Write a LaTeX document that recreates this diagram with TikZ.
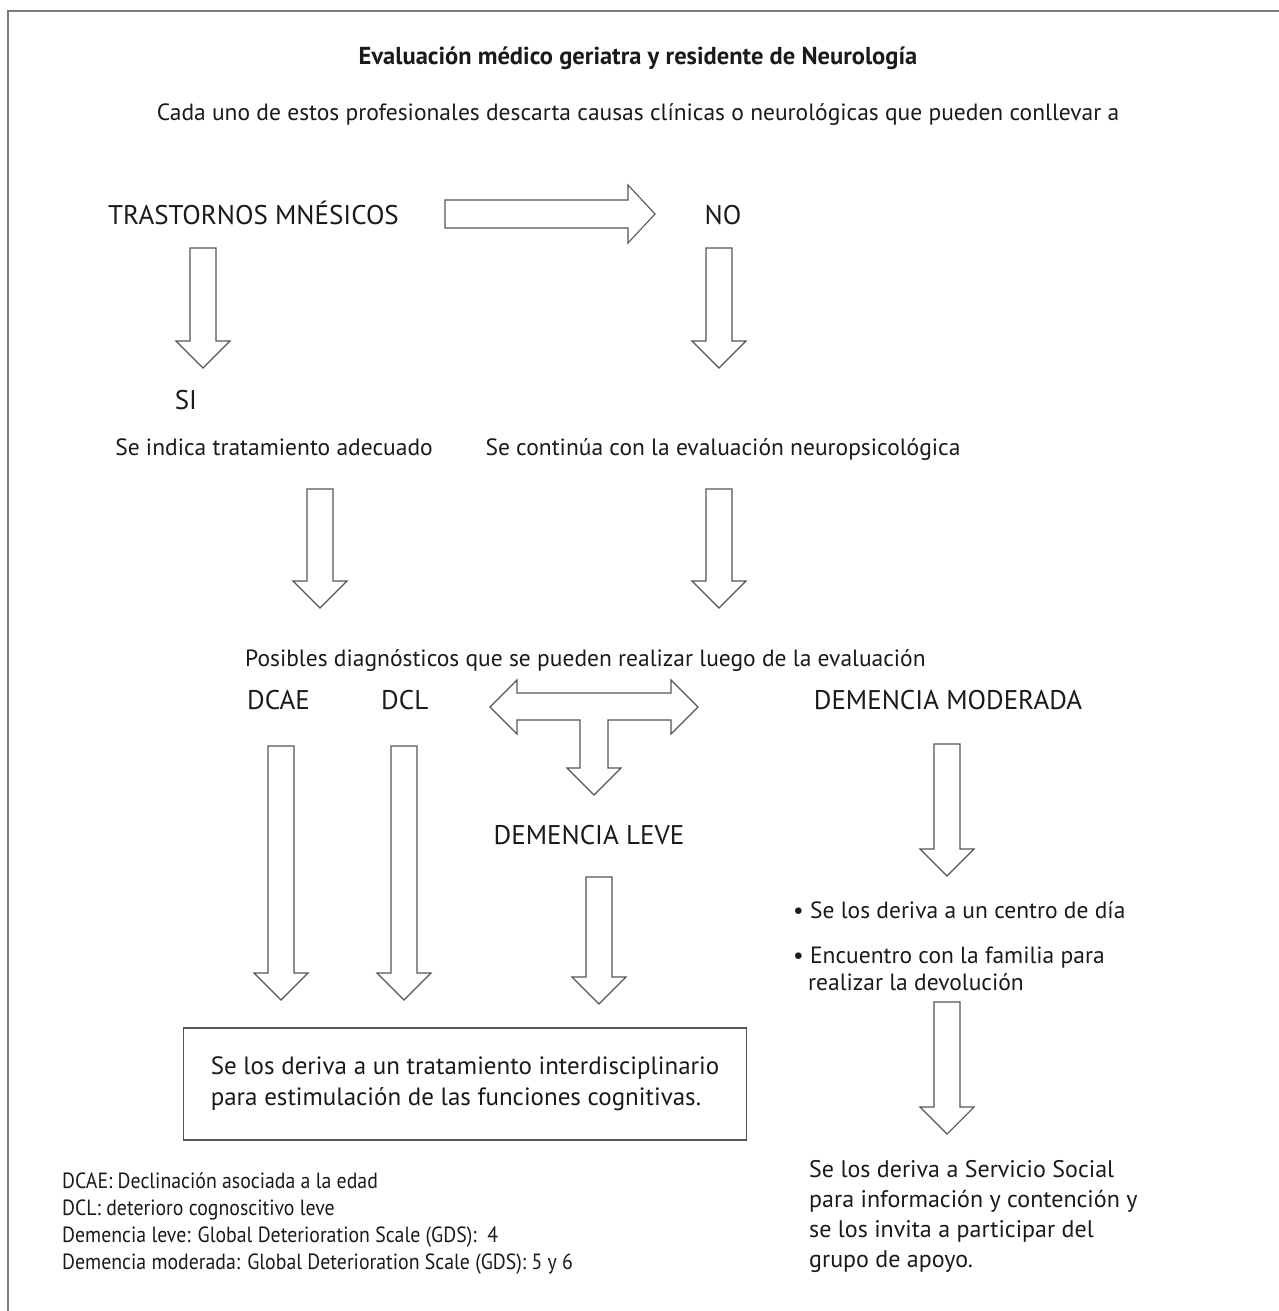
\documentclass[tikz,border=0pt]{standalone}
\usepackage{fontspec}
\setmainfont{PT Sans}
\newfontfamily\notafont[FakeStretch=0.9]{PT Sans}
\usetikzlibrary{calc}
\definecolor{tinta}{HTML}{1A1A1A}
\definecolor{marco}{HTML}{7A7A7A}
\definecolor{trazo}{HTML}{555555}
\tikzset{
	texto/.style={inner sep=0pt, text=tinta, font=\fontsize{23.5}{28}\selectfont},
	mayus/.style={texto, font=\fontsize{27}{32}\selectfont},
	nota/.style={inner sep=0pt, text=tinta, align=left, font=\notafont\fontsize{22}{27}\selectfont},
	flecha/.style={draw=trazo, line width=1.1pt, fill=white, line join=miter}
}
% flecha de bloque hacia abajo: de (#1) a la punta (#2)
\newcommand{\flechabaja}[2]{%
	\draw[flecha] ($(#1)+(-13,0)$) -- ($(#2)+(-13,-27)$) -- ($(#2)+(-27,-27)$) -- (#2)
	-- ($(#2)+(27,-27)$) -- ($(#2)+(13,-27)$) -- ($(#1)+(13,0)$) -- cycle;}
% flecha de bloque hacia la derecha
\newcommand{\flechader}[2]{%
	\draw[flecha] ($(#1)+(0,-14)$) -- ($(#2)+(-27,-14)$) -- ($(#2)+(-27,-29)$) -- (#2)
	-- ($(#2)+(-27,29)$) -- ($(#2)+(-27,14)$) -- ($(#1)+(0,14)$) -- cycle;}

\begin{document}
\begin{tikzpicture}[x=1pt,y=-1pt]
\useasboundingbox (0,0) rectangle (1278,1311);

%Marco
\draw[marco, line width=1.6pt] (8,1330) -- (8,11) -- (1300,11);

%Textos
\node[texto, font=\bfseries\fontsize{24.5}{28}\selectfont, anchor=base] (titulo) at (638,65) {Evaluación médico geriatra y residente de Neurología};
\node[texto, anchor=base] (intro) at (638,121) {Cada uno de estos profesionales descarta causas clínicas o neurológicas que pueden conllevar a};
\node[mayus, anchor=base west] (trast) at (108,224) {TRASTORNOS MNÉSICOS};
\node[mayus, anchor=base] (no) at (723,224) {NO};
\node[mayus, anchor=base] (si) at (186,409) {SI};
\node[texto, anchor=base] (trat) at (274,455) {Se indica tratamiento adecuado};
\node[texto, anchor=base] (contin) at (723,455) {Se continúa con la evaluación neuropsicológica};
\node[texto, anchor=base west] (posib) at (245,666) {Posibles diagnósticos que se pueden realizar luego de la evaluación};
\node[mayus, anchor=base west] (dcae) at (247,709) {DCAE};
\node[mayus, anchor=base west] (dcl) at (381,709) {DCL};
\node[mayus, anchor=base] (moder) at (948,709) {DEMENCIA MODERADA};
\node[mayus, anchor=base] (leve) at (589,844) {DEMENCIA LEVE};
\node[texto, anchor=base west] (bul1) at (793,918) {\textbullet\ Se los deriva a un centro de día};
\node[texto, anchor=base west] (bul2) at (793,963) {\textbullet\ Encuentro con la familia para};
\node[texto, anchor=base west] (bul2b) at (808,990) {realizar la devolución};
\node[texto, font=\fontsize{24}{30}\selectfont, anchor=north west, align=left] (social) at (809,1160)
	{Se los deriva a Servicio Social\\para información y contención y\\se los invita a participar del\\grupo de apoyo.};
\node[texto, font=\fontsize{25}{31}\selectfont, draw=trazo, line width=1.1pt, align=left,
	minimum width=562, minimum height=112, inner xsep=27pt] (caja) at (465,1084)
	{Se los deriva a un tratamiento interdisciplinario\\para estimulación de las funciones cognitivas.};
\node[nota, anchor=north west] (notas) at (62,1172)
	{DCAE: Declinación asociada a la edad\\DCL: deterioro cognoscitivo leve\\Demencia leve: Global Deterioration Scale (GDS):~~4\\Demencia moderada: Global Deterioration Scale (GDS): 5 y 6};

%Flechas
\coordinate (a1) at (445,214); \coordinate (a1f) at (655,214);
\coordinate (b1) at (203,248); \coordinate (b1f) at (203,368);
\coordinate (b2) at (719,248); \coordinate (b2f) at (719,368);
\coordinate (c1) at (320,489); \coordinate (c1f) at (320,608);
\coordinate (c2) at (719,489); \coordinate (c2f) at (719,608);
\coordinate (d1) at (281,746); \coordinate (d1f) at (281,1000);
\coordinate (d2) at (404,746); \coordinate (d2f) at (404,1000);
\coordinate (d3) at (599,877); \coordinate (d3f) at (599,1004);
\coordinate (e1) at (947,744); \coordinate (e1f) at (947,876);
\coordinate (e2) at (947,1002); \coordinate (e2f) at (947,1134);
\coordinate (t) at (594,707);

\flechader{a1}{a1f}
\flechabaja{b1}{b1f}
\flechabaja{b2}{b2f}
\flechabaja{c1}{c1f}
\flechabaja{c2}{c2f}
\flechabaja{d1}{d1f}
\flechabaja{d2}{d2f}
\flechabaja{d3}{d3f}
\flechabaja{e1}{e1f}
\flechabaja{e2}{e2f}

%Flecha doble con bajada
\draw[flecha] ($(t)+(-104,0)$) -- ++(27,-27) -- ++(0,13) -- ++(154,0) -- ++(0,-13) -- ++(27,27)
	-- ++(-27,27) -- ++(0,-14) -- ++(-63,0) -- ++(0,48) -- ++(13,0) -- ++(-27,27) -- ++(-27,-27)
	-- ++(13,0) -- ++(0,-48) -- ++(-63,0) -- ++(0,14) -- cycle;

\end{tikzpicture}
\end{document}
